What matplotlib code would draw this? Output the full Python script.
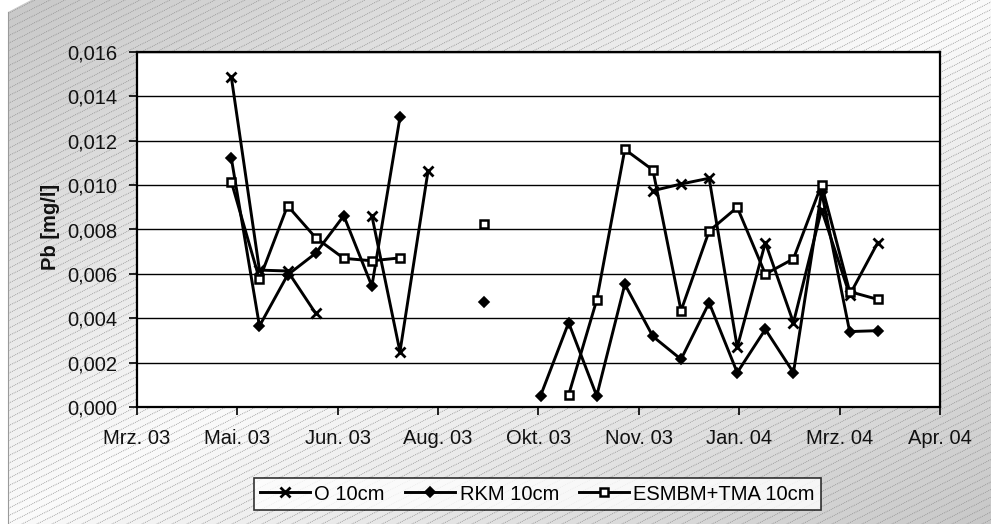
import numpy as np
import pandas as pd
import matplotlib
matplotlib.use("Agg")
import matplotlib.pyplot as plt
from matplotlib.patches import Polygon, Rectangle

plt.rcParams['font.family'] = ['Liberation Sans', 'DejaVu Sans']

# Sampling dates (two-week rhythm, empty dates keep the line gaps)
dates = pd.to_datetime([
    "2003-05-06", "2003-05-20", "2003-06-03", "2003-06-17", "2003-07-01",
    "2003-07-15", "2003-07-29", "2003-08-12", "2003-08-26", "2003-09-09",
    "2003-09-23", "2003-10-07", "2003-10-21", "2003-11-04", "2003-11-18",
    "2003-12-02", "2003-12-16", "2003-12-30", "2004-01-13", "2004-01-27",
    "2004-02-10", "2004-02-24", "2004-03-09", "2004-03-23",
])

nan = np.nan
# Pb concentrations in mg/l
o_10cm = [0.01486, 0.00617, 0.00613, 0.00422, nan, 0.00862, 0.00249, 0.01065,
          nan, nan, nan, nan, nan, nan, nan,
          0.00975, 0.01005, 0.01031, 0.00269, 0.00741, 0.00380, 0.00890,
          0.00505, 0.00741]
rkm_10cm = [0.01121, 0.00365, 0.00595, 0.00693, 0.00862, 0.00545, 0.01306,
            nan, nan, 0.00475, nan, 0.00050, 0.00380, 0.00050, 0.00553,
            0.00318, 0.00215, 0.00470, 0.00155, 0.00350, 0.00155, 0.00970,
            0.00340, 0.00344]
esmbm_10cm = [0.01015, 0.00575, 0.00907, 0.00763, 0.00670, 0.00659, 0.00672,
              nan, nan, 0.00825, nan, nan, 0.00054, 0.00482, 0.01161,
              0.01068, 0.00434, 0.00793, 0.00900, 0.00599, 0.00668, 0.01002,
              0.00520, 0.00485]

series_names = ["O 10cm", "RKM 10cm", "ESMBM+TMA 10cm"]

x_start = pd.Timestamp("2003-03-20")
x_end = pd.Timestamp("2004-04-23")
x_tick_labels = ["Mrz. 03", "Mai. 03", "Jun. 03", "Aug. 03", "Okt. 03",
                 "Nov. 03", "Jan. 04", "Mrz. 04", "Apr. 04"]
y_ticks = [0.000, 0.002, 0.004, 0.006, 0.008, 0.010, 0.012, 0.014, 0.016]

FS = 14.5
W, H = 991, 524
fig = plt.figure(figsize=(W / 100, H / 100), dpi=100)

# ---- background: diagonal grey gradient with fine dotted hatching ----
bg = fig.add_axes([0, 0, 1, 1], zorder=0)
bg.axis("off")
yy, xx = np.mgrid[0:H, 0:W]
u = xx / W + yy / H
shade = 0.78 + 0.20 * (1 - np.abs(u - 1))
bg.imshow(shade, cmap="gray", vmin=0, vmax=1, extent=(0, W, H, 0),
          aspect="auto", interpolation="bilinear")
slope = 0.5
for c in np.arange(-20, H + slope * W + 20, 7.5):
    bg.plot([0, W], [c, c - slope * W], color="#8c8c8c", lw=0.55,
            ls=(0, (1.2, 1.3)), solid_capstyle="butt")
bg.add_patch(Rectangle((0, 0), 8, H, facecolor="white", edgecolor="none", zorder=3))
bg.plot([8, 8], [12, H], color="#9a9a9a", lw=0.8, zorder=4)
bg.add_patch(Polygon([[0, 0], [31, 0], [8, 12], [0, 12]], closed=True,
                     facecolor="white", edgecolor="none", zorder=3))
bg.set_xlim(0, W)
bg.set_ylim(H, 0)

# ---- main plot ----
left, right, top, bottom = 137, 940, 52, 407
ax = fig.add_axes([left / W, 1 - bottom / H, (right - left) / W, (bottom - top) / H],
                  zorder=2)
ax.set_facecolor("white")

lw = 2.1
ax.plot(dates, o_10cm, color="black", lw=lw, marker="x", ms=7.5, mew=2.0,
        label=series_names[0], zorder=3)
ax.plot(dates, rkm_10cm, color="black", lw=lw, marker="D", ms=5, mew=1.2,
        mfc="black", label=series_names[1], zorder=3)
ax.plot(dates, esmbm_10cm, color="black", lw=lw, marker="s", ms=5.5, mew=1.8,
        mfc="white", label=series_names[2], zorder=3)

ax.set_xlim(x_start, x_end)
ax.set_ylim(0, 0.016)
ax.set_yticks(y_ticks)
ax.set_yticklabels([f"{v:.3f}".replace(".", ",") for v in y_ticks])
x_ticks = pd.date_range(x_start, x_end, freq="50D")
ax.set_xticks(x_ticks)
ax.set_xticklabels(x_tick_labels)

ax.yaxis.grid(True, color="black", lw=1.0)
ax.set_axisbelow(True)
for s in ax.spines.values():
    s.set_linewidth(1.6)
    s.set_color("black")
ax.tick_params(axis="both", direction="out", length=6, width=1.2, color="black",
               labelsize=FS, labelcolor="#111111")
ax.tick_params(axis="y", pad=8)
ax.tick_params(axis="x", pad=10)

fig.text(50 / W, 1 - 227 / H, "Pb [mg/l]", rotation=90, ha="center", va="center",
         fontsize=FS, fontweight="bold", color="#111111")

leg = fig.legend(loc="center", bbox_to_anchor=((249 + 826) / 2 / W, 1 - 494 / H),
                 ncol=3, frameon=True, fancybox=False, fontsize=FS,
                 handlelength=2.5, handletextpad=0.2, columnspacing=1.0,
                 borderpad=0.3, borderaxespad=0)
leg.get_frame().set_edgecolor("black")
leg.get_frame().set_linewidth(1.2)
leg.get_frame().set_facecolor("white")
leg.set_zorder(5)

fig.savefig("out.png", dpi=100)
